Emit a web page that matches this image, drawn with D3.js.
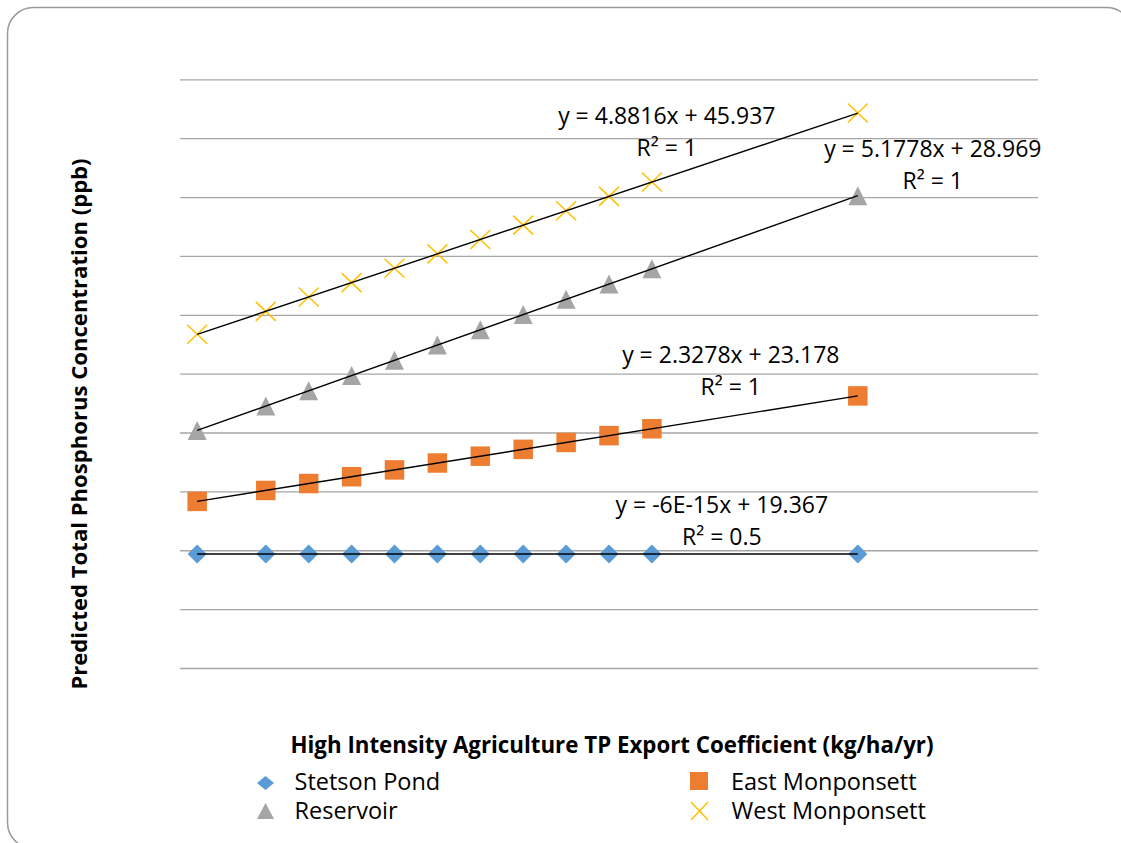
<!DOCTYPE html>
<html>
<head>
<meta charset="utf-8">
<script src="https://cdn.jsdelivr.net/npm/d3@7"></script>
<style>
  html, body { margin: 0; padding: 0; background: #ffffff; }
  svg { display: block; font-family: "Open Sans", "Noto Sans", sans-serif; }
</style>
</head>
<body>
<svg id="chart" width="1121" height="843"></svg>
<script>
// Export coefficient values (kg/ha/yr) shared by all four lakes
const exportCoef = [2.2, 3.0, 3.5, 4.0, 4.5, 5.0, 5.5, 6.0, 6.5, 7.0, 7.5, 9.9];

// Predicted total phosphorus (ppb) per lake
const stetsonPond    = [19.37, 19.37, 19.37, 19.37, 19.37, 19.37, 19.37, 19.37, 19.37, 19.37, 19.37, 19.37];
const eastMonponsett = [28.30, 30.16, 31.33, 32.49, 33.65, 34.82, 35.98, 37.14, 38.31, 39.47, 40.64, 46.22];
const reservoir      = [40.36, 44.50, 47.09, 49.68, 52.27, 54.86, 57.45, 60.04, 62.62, 65.21, 67.80, 80.23];
const westMonponsett = [56.68, 60.58, 63.02, 65.46, 67.90, 70.35, 72.79, 75.23, 77.67, 80.11, 82.55, 94.27];

const seriesNames = ["Stetson Pond", "East Monponsett", "Reservoir", "West Monponsett"];

// Linear trendline fits (slope, intercept, R²) shown on the chart
const trendSlopes     = [-6e-15, 2.3278, 5.1778, 4.8816];
const trendIntercepts = [19.367, 23.178, 28.969, 45.937];
const trendSlopeText  = ["-6E-15", "2.3278", "5.1778", "4.8816"];
const trendInterText  = ["19.367", "23.178", "28.969", "45.937"];
const trendR2Text     = ["0.5", "1", "1", "1"];

const yTicks = d3.range(0, 101, 10);

// ---- styling ----
const colors  = ["#5b9bd5", "#ed7d31", "#a5a5a5", "#ffc000"];
const shapes  = ["diamond", "square", "triangle", "cross"];
// equation label placement relative to the right end of each trendline
const labelOffsets = [[-136, -41], [-127, -33], [75, -39], [-191, 11]];
const lineGap = 32;

const values = [stetsonPond, eastMonponsett, reservoir, westMonponsett];

const svg = d3.select("#chart");
const W = 1121, H = 843;

svg.append("rect").attr("width", W).attr("height", H).attr("fill", "#ffffff");

// outer chart frame with rounded corners
svg.append("rect")
  .attr("x", 7.5).attr("y", 7.5)
  .attr("width", 1125).attr("height", 841)
  .attr("rx", 26).attr("ry", 26)
  .attr("fill", "none")
  .attr("stroke", "#9a9a9a")
  .attr("stroke-width", 1.5);

const x = d3.scaleLinear().domain([2, 12]).range([180, 1038]);
const y = d3.scaleLinear().domain([0, 100]).range([668, 79.3]);

// horizontal gridlines
const yAxis = d3.axisLeft(y).tickValues(yTicks).tickSize(-(1038 - 180)).tickFormat("");
const gAxis = svg.append("g").attr("transform", "translate(180,0)").call(yAxis);
gAxis.select(".domain").remove();
gAxis.selectAll(".tick line").attr("stroke", "#a6a6a6").attr("stroke-width", 1.3);

// marker path generators
function markerPath(shape, w, h) {
  const a = w / 2, b = h / 2;
  switch (shape) {
    case "diamond":  return `M0,${-b}L${a},0L0,${b}L${-a},0Z`;
    case "square":   return `M${-a},${-b}H${a}V${b}H${-a}Z`;
    case "triangle": return `M0,${-b}L${a},${b}L${-a},${b}Z`;
    case "cross":    return `M${-a},${-b}L${a},${b}M${a},${-b}L${-a},${b}`;
  }
}
function drawMarker(g, shape, color, w, h) {
  const p = g.append("path").attr("d", markerPath(shape, w, h));
  if (shape === "cross") {
    p.attr("fill", "none").attr("stroke", color).attr("stroke-width", 1.5);
  } else {
    p.attr("fill", color);
  }
}
const markerDims = { diamond: [19, 19], square: [19.5, 19.5], triangle: [19, 19], cross: [20, 19] };

// data markers
values.forEach((vals, i) => {
  const g = svg.append("g").attr("class", "series");
  vals.forEach((v, j) => {
    const m = g.append("g").attr("transform", `translate(${x(exportCoef[j])},${y(v)})`);
    const [w, h] = markerDims[shapes[i]];
    drawMarker(m, shapes[i], colors[i], w, h);
  });
});

// trendlines and their equations
const xMin = d3.min(exportCoef), xMax = d3.max(exportCoef);
values.forEach((vals, i) => {
  const f = xv => trendSlopes[i] * xv + trendIntercepts[i];
  svg.append("line")
    .attr("x1", x(xMin)).attr("y1", y(f(xMin)))
    .attr("x2", x(xMax)).attr("y2", y(f(xMax)))
    .attr("stroke", "#000000").attr("stroke-width", 1.4);

  const cx = x(xMax) + labelOffsets[i][0];
  const cy = y(f(xMax)) + labelOffsets[i][1];
  const t = svg.append("text")
    .attr("x", cx).attr("y", cy)
    .attr("text-anchor", "middle")
    .attr("font-size", 23)
    .attr("fill", "#000000");
  t.append("tspan").attr("x", cx).attr("y", cy)
    .text(`y = ${trendSlopeText[i]}x + ${trendInterText[i]}`);
  t.append("tspan").attr("x", cx).attr("y", cy + lineGap)
    .text(`R² = ${trendR2Text[i]}`);
});

// axis titles
svg.append("text")
  .attr("transform", "translate(87,424) rotate(-90)")
  .attr("text-anchor", "middle")
  .attr("font-size", 22.1)
  .attr("font-weight", "bold")
  .attr("fill", "#000000")
  .text("Predicted Total Phosphorus Concentration (ppb)");

svg.append("text")
  .attr("x", 612).attr("y", 753)
  .attr("text-anchor", "middle")
  .attr("font-size", 22.3)
  .attr("font-weight", "bold")
  .attr("fill", "#000000")
  .text("High Intensity Agriculture TP Export Coefficient (kg/ha/yr)");

// legend, two columns
const legendPos = [[265.5, 783], [699, 781], [265.5, 811], [699.5, 811]];
const legendDims = { diamond: [17, 14], square: [18, 18], triangle: [17, 16], cross: [17, 18] };
seriesNames.forEach((name, i) => {
  const [lx, ly] = legendPos[i];
  const g = svg.append("g").attr("transform", `translate(${lx},${ly})`);
  const [w, h] = legendDims[shapes[i]];
  drawMarker(g, shapes[i], colors[i], w, h);
  svg.append("text")
    .attr("x", lx + (i % 2 === 0 ? 29 : 32))
    .attr("y", (i < 2 ? 790 : 819))
    .attr("font-size", 23.5)
    .attr("fill", "#000000")
    .text(name);
});
</script>
</body>
</html>
